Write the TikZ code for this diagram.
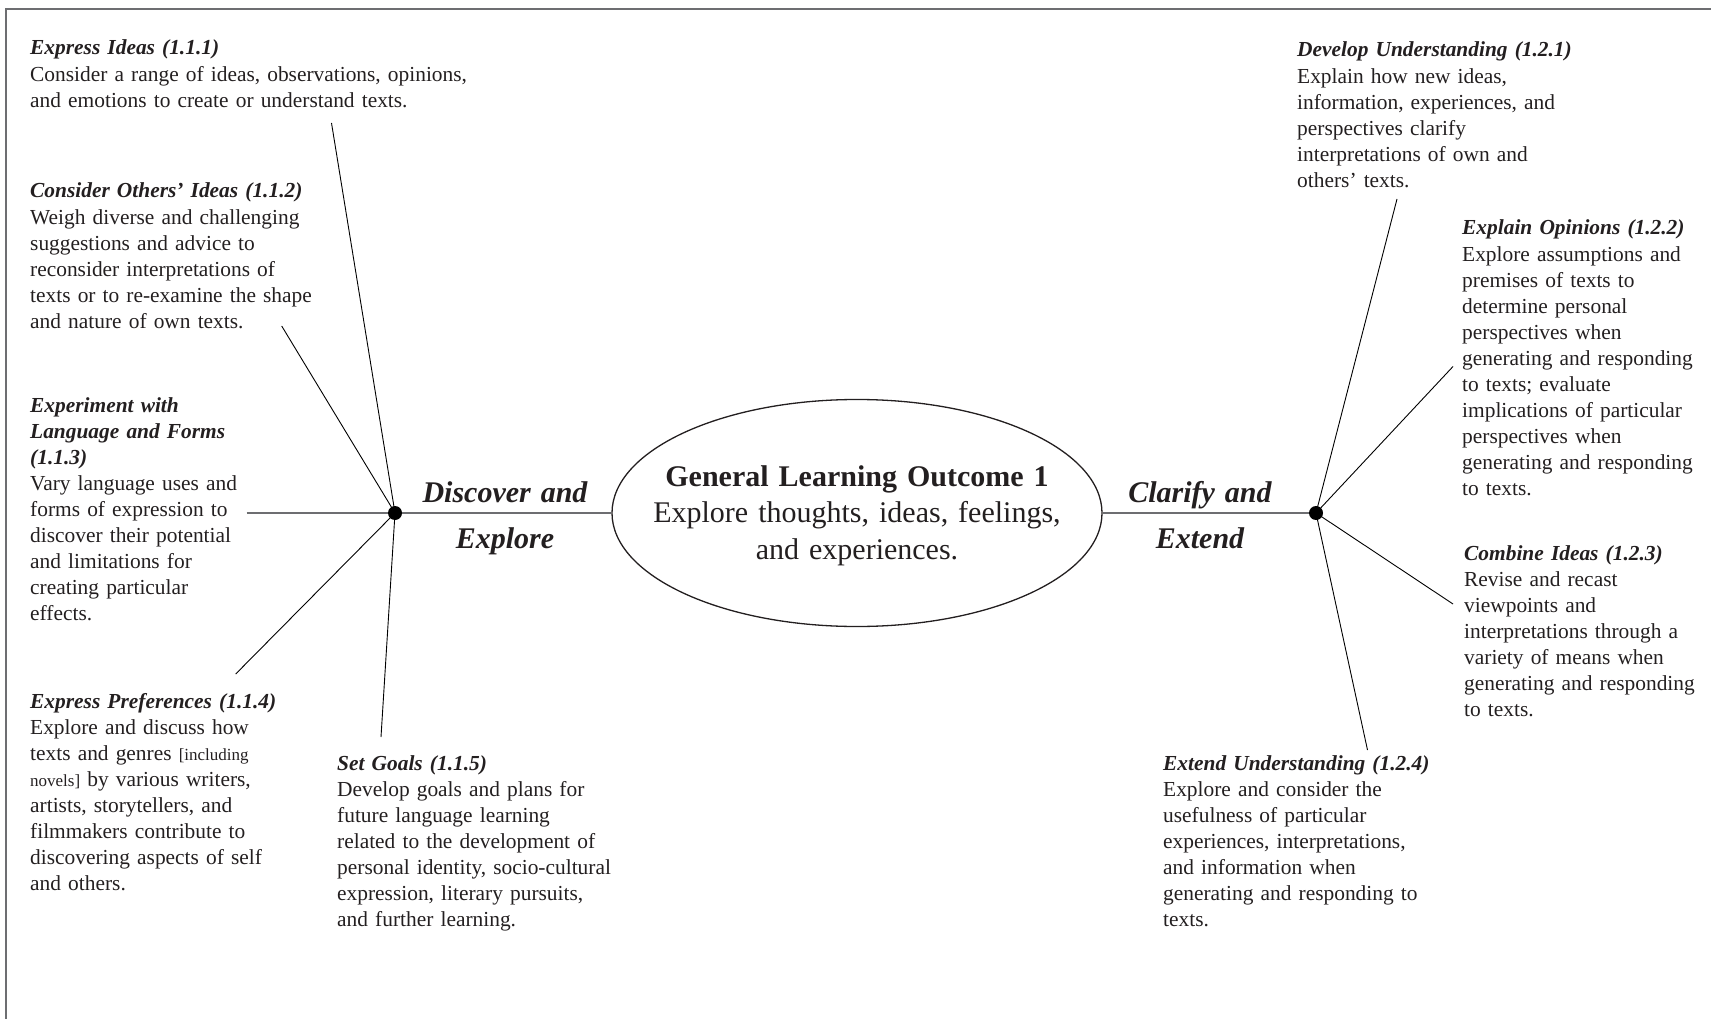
\documentclass[tikz,border=0pt]{standalone}
\usepackage{fontspec}
\setmainfont{Liberation Serif}
\usetikzlibrary{shapes.geometric}
\definecolor{txt}{HTML}{231F20}
\definecolor{framegray}{HTML}{6D6E71}
\begin{document}
\begin{tikzpicture}[x=1pt,y=-1pt,
  blk/.style={anchor=base west, inner sep=0pt, text width=560pt, align=left,
    font=\fontsize{21.4}{26.1}\selectfont, text=txt},
  hd/.style={font=\fontsize{30}{46}\selectfont\bfseries\itshape, text=txt,
    anchor=base, inner sep=0pt, text width=260pt, align=center},
  hub/.style={circle, fill=black, inner sep=0pt, minimum size=14pt},
  conn/.style={draw=black, line width=0.9pt},
  mainline/.style={draw=framegray, line width=2.4pt},
  framepen/.style={draw=framegray, line width=2pt}]
\useasboundingbox (0,0) rectangle (1711,1019);
\newcommand{\ttl}[1]{\textbf{\textit{#1}}}
% frame (cropped)
\draw[framepen] (6,1025) -- (6,9) -- (1720,9);

% central ellipse
\node[ellipse, draw=txt, line width=1.3pt, minimum width=490pt, minimum height=227pt, inner sep=0pt] (glo) at (857,513) {};
\node[anchor=base, inner sep=0pt, text width=440pt, align=center, text=txt,
  font=\fontsize{30}{36.5}\selectfont] (glot) at (857,486)
  {\textbf{General Learning Outcome 1}\\Explore thoughts, ideas, feelings,\\and experiences.};

% hubs
\node[hub] (hubL) at (395,513) {};
\node[hub] (hubR) at (1316,513) {};

% branch labels
\node[hd] (disc) at (505,502) {Discover and\\Explore};
\node[hd] (clar) at (1200,502) {Clarify and\\Extend};

% text blocks, left
\node[blk] (b111) at (30,55) {\ttl{Express Ideas (1.1.1)}\\Consider a range of ideas, observations, opinions,\\and emotions to create or understand texts.};
\node[blk] (b112) at (30,198) {\ttl{Consider Others’ Ideas (1.1.2)}\\Weigh diverse and challenging\\suggestions and advice to\\reconsider interpretations of\\texts or to re-examine the shape\\and nature of own texts.};
\node[blk] (b113) at (30,412) {\ttl{Experiment with}\\\ttl{Language and Forms}\\\ttl{(1.1.3)}\\Vary language uses and\\forms of expression to\\discover their potential\\and limitations for\\creating particular\\effects.};
\node[blk] (b114) at (30,708) {\ttl{Express Preferences (1.1.4)}\\Explore and discuss how\\texts and genres {\fontsize{17}{26.1}\selectfont[including}\\{\fontsize{17}{26.1}\selectfont novels]} by various writers,\\artists, storytellers, and\\filmmakers contribute to\\discovering aspects of self\\and others.};
\node[blk] (b115) at (337,770) {\ttl{Set Goals (1.1.5)}\\Develop goals and plans for\\future language learning\\related to the development of\\personal identity, socio-cultural\\expression, literary pursuits,\\and further learning.};

% text blocks, right
\node[blk] (b121) at (1297,57) {\ttl{Develop Understanding (1.2.1)}\\Explain how new ideas,\\information, experiences, and\\perspectives clarify\\interpretations of own and\\others’ texts.};
\node[blk] (b122) at (1462,235) {\ttl{Explain Opinions (1.2.2)}\\Explore assumptions and\\premises of texts to\\determine personal\\perspectives when\\generating and responding\\to texts; evaluate\\implications of particular\\perspectives when\\generating and responding\\to texts.};
\node[blk] (b123) at (1464,560) {\ttl{Combine Ideas (1.2.3)}\\Revise and recast\\viewpoints and\\interpretations through a\\variety of means when\\generating and responding\\to texts.};
\node[blk] (b124) at (1163,770) {\ttl{Extend Understanding (1.2.4)}\\Explore and consider the\\usefulness of particular\\experiences, interpretations,\\and information when\\generating and responding to\\texts.};

% connector free ends
\coordinate (c111) at (331.5,123);
\coordinate (c112) at (281.7,326);
\coordinate (c113) at (246.5,513);
\coordinate (c114) at (235.7,674);
\coordinate (c115) at (381,737);
\coordinate (c121) at (1397,199);
\coordinate (c122) at (1453,366.5);
\coordinate (c123) at (1453,604);
\coordinate (c124) at (1367.5,750);

% main horizontal line
\draw[mainline] (c113) -- (hubL);
\draw[mainline] (hubL) -- (glo.west);
\draw[mainline] (glo.east) -- (hubR);

% connectors
\draw[conn] (hubL.center) -- (c111);
\draw[conn] (hubL.center) -- (c112);
\draw[conn] (hubL.center) -- (c114);
\draw[conn] (hubL.center) -- (c115);
\draw[conn] (hubR.center) -- (c121);
\draw[conn] (hubR.center) -- (c122);
\draw[conn] (hubR.center) -- (c123);
\draw[conn] (hubR.center) -- (c124);
\end{tikzpicture}
\end{document}
